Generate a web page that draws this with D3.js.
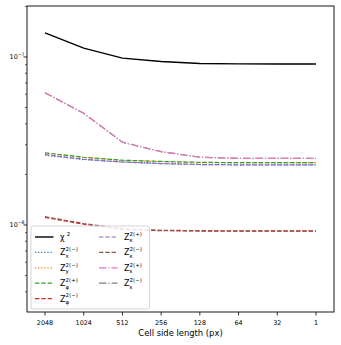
<!DOCTYPE html>
<html>
<head>
<meta charset="utf-8">
<script src="https://cdn.jsdelivr.net/npm/d3@7"></script>
<style>
  body { margin: 0; background: #fff; }
  text { font-family: "DejaVu Sans", sans-serif; }
</style>
</head>
<body>
<div class="chart"></div>
<script>
// categories on the x axis
const cellSizes = ['2048', '1024', '512', '256', '128', '64', '32', '1'];

// series values
const chi2     = [1.39e-7, 1.13e-7, 9.85e-8, 9.4e-8, 9.15e-8, 9.1e-8, 9.08e-8, 9.08e-8];
const zxMinus  = [2.6e-8, 2.45e-8, 2.37e-8, 2.32e-8, 2.29e-8, 2.28e-8, 2.28e-8, 2.28e-8];
const zyMinus  = [2.68e-8, 2.52e-8, 2.42e-8, 2.38e-8, 2.35e-8, 2.35e-8, 2.35e-8, 2.35e-8];
const zphiPlus = [2.69e-8, 2.53e-8, 2.43e-8, 2.39e-8, 2.36e-8, 2.35e-8, 2.35e-8, 2.35e-8];
const zphiMinus= [1.11e-8, 1.01e-8, 9.4e-9, 9.25e-9, 9.2e-9, 9.18e-9, 9.18e-9, 9.18e-9];
const zkPlus   = [2.62e-8, 2.46e-8, 2.37e-8, 2.32e-8, 2.29e-8, 2.28e-8, 2.28e-8, 2.28e-8];
const zkMinus  = [1.12e-8, 1.02e-8, 9.5e-9, 9.3e-9, 9.25e-9, 9.23e-9, 9.23e-9, 9.23e-9];
const zsPlus   = [6.13e-8, 4.62e-8, 3.11e-8, 2.73e-8, 2.53e-8, 2.49e-8, 2.49e-8, 2.49e-8];
const zsMinus  = [6.13e-8, 4.62e-8, 3.11e-8, 2.73e-8, 2.53e-8, 2.49e-8, 2.49e-8, 2.49e-8];

const yMajorTicks = [1e-8, 1e-7];

const width = 341, height = 345;
const mLeft = 27, mRight = 334, mTop = 6, mBottom = 312;

const svg = d3.select('.chart').append('svg')
  .attr('width', width)
  .attr('height', height);

const x = d3.scalePoint()
  .domain(cellSizes)
  .range([mLeft, mRight])
  .padding(0.465);

const y = d3.scaleLog()
  .domain([3.034e-9, 2.011e-7])
  .range([mBottom, mTop]);

// series: label parts, data, colour, dash, width
const series = [
  { sym: 'χ', sup: '2', sub: '', data: chi2, color: '#000000', dash: null, w: 1.4 },
  { sym: 'Z', sup: '2(−)', sub: 'x', data: zxMinus, color: '#1f77b4', dash: '1.2,1.9', w: 1.2 },
  { sym: 'Z', sup: '2(−)', sub: 'y', data: zyMinus, color: '#ff7f0e', dash: '1.2,1.9', w: 1.2 },
  { sym: 'Z', sup: '2(+)', sub: 'φ', data: zphiPlus, color: '#2ca02c', dash: '4.4,1.9', w: 1.2 },
  { sym: 'Z', sup: '2(−)', sub: 'φ', data: zphiMinus, color: '#d62728', dash: '4.4,1.9', w: 1.2 },
  { sym: 'Z', sup: '2(+)', sub: 'κ', data: zkPlus, color: '#9467bd', dash: '4.4,1.9', w: 1.2 },
  { sym: 'Z', sup: '2(−)', sub: 'κ', data: zkMinus, color: '#8c564b', dash: '4.4,1.9', w: 1.2 },
  { sym: 'Z', sup: '2(+)', sub: 's', data: zsPlus, color: '#e377c2', dash: '7.6,1.9,1.2,1.9', w: 1.2 },
  { sym: 'Z', sup: '2(−)', sub: 's', data: zsMinus, color: '#7f7f7f', dash: '7.6,1.9,1.2,1.9', w: 1.2 }
];

const line = d3.line()
  .x((d, i) => x(cellSizes[i]))
  .y(d => y(d));

// draw order: gray dash-dot sits under the pink one
const drawOrder = [0, 1, 2, 3, 4, 5, 6, 8, 7];
const plot = svg.append('g');
drawOrder.forEach(k => {
  const s = series[k];
  plot.append('path')
    .attr('d', line(s.data))
    .attr('fill', 'none')
    .attr('stroke', s.color)
    .attr('stroke-width', s.w)
    .attr('stroke-dasharray', s.dash);
});

// axes frame
svg.append('rect')
  .attr('x', mLeft).attr('y', mTop)
  .attr('width', mRight - mLeft).attr('height', mBottom - mTop)
  .attr('fill', 'none').attr('stroke', '#000').attr('stroke-width', 0.9);

// x ticks
const xAxis = svg.append('g');
cellSizes.forEach(c => {
  xAxis.append('line')
    .attr('x1', x(c)).attr('x2', x(c))
    .attr('y1', mBottom).attr('y2', mBottom + 3.5)
    .attr('stroke', '#000').attr('stroke-width', 0.8);
  xAxis.append('text')
    .attr('x', x(c)).attr('y', mBottom + 13)
    .attr('text-anchor', 'middle')
    .attr('font-size', 6.4)
    .text(c);
});
svg.append('text')
  .attr('x', (mLeft + mRight) / 2).attr('y', 336)
  .attr('text-anchor', 'middle')
  .attr('font-size', 8.4)
  .text('Cell side length (px)');

// y ticks (log)
const yAxis = svg.append('g');
y.ticks().forEach(t => {
  const major = yMajorTicks.some(m => Math.abs(m - t) / m < 1e-6);
  yAxis.append('line')
    .attr('x1', mLeft).attr('x2', mLeft - (major ? 3.5 : 2))
    .attr('y1', y(t)).attr('y2', y(t))
    .attr('stroke', '#000').attr('stroke-width', major ? 0.8 : 0.6);
});
yMajorTicks.forEach(t => {
  const lbl = yAxis.append('text')
    .attr('x', 24.5).attr('y', y(t) + 2.3)
    .attr('text-anchor', 'end')
    .attr('font-size', 6.4);
  lbl.append('tspan').text('10');
  lbl.append('tspan').attr('font-size', 4.6).attr('dy', -3).text('−' + Math.round(-Math.log10(t)));
});

// legend
const legend = svg.append('g');
legend.append('rect')
  .attr('x', 31).attr('y', 226)
  .attr('width', 118.5).attr('height', 83)
  .attr('rx', 2)
  .attr('fill', 'rgba(255,255,255,0.85)')
  .attr('stroke', '#d0d0d0').attr('stroke-width', 0.9);

series.forEach((s, k) => {
  const col = k < 5 ? 0 : 1;
  const row = k < 5 ? k : k - 5;
  const hx = col === 0 ? 35 : 99;
  const ty = 237 + row * 15.4;
  legend.append('line')
    .attr('x1', hx).attr('x2', hx + 18.5)
    .attr('y1', ty).attr('y2', ty)
    .attr('stroke', s.color)
    .attr('stroke-width', s.w)
    .attr('stroke-dasharray', s.dash);
  const tx = hx + 25;
  legend.append('text')
    .attr('x', tx).attr('y', ty + 3)
    .attr('font-size', 8)
    .text(s.sym);
  const sw = s.sym === 'χ' ? 6.8 : 5.6;
  legend.append('text')
    .attr('x', tx + sw).attr('y', ty - 1.2)
    .attr('font-size', 5.4)
    .text(s.sup);
  if (s.sub) {
    legend.append('text')
      .attr('x', tx + sw).attr('y', ty + 5.3)
      .attr('font-size', 5.4)
      .text(s.sub);
  }
});
</script>
</body>
</html>
